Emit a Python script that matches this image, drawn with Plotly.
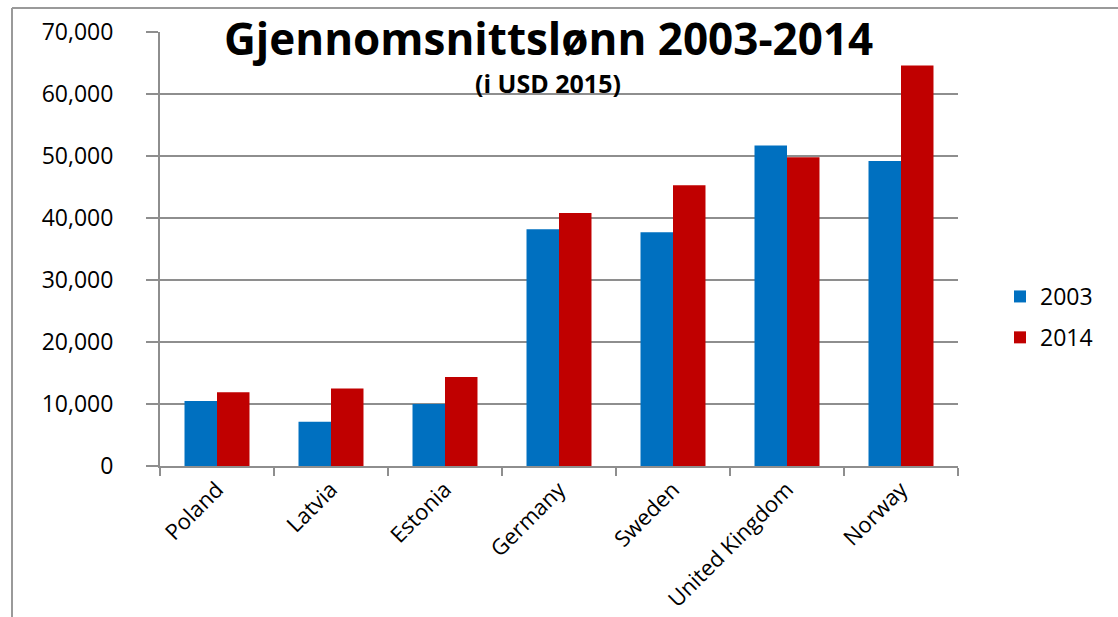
import plotly.graph_objects as go

countries = ["Poland", "Latvia", "Estonia", "Germany", "Sweden", "United Kingdom", "Norway"]
wages_2003 = [10500, 7150, 10000, 38200, 37700, 51700, 49200]
wages_2014 = [11900, 12500, 14350, 40800, 45300, 49800, 64600]
series_names = ["2003", "2014"]
title_text = "Gjennomsnittslønn 2003-2014"
subtitle_text = "(i USD 2015)"

W, H = 1118, 617
L, R, T, B = 160, 160, 32, 151
PW, PH = W - L - R, H - T - B

def px(x):
    return (x - L) / PW

def py(y):
    return (H - B - y) / PH

FONT = "Open Sans"
GRID = "#8e8e8e"

fig = go.Figure()
fig.add_trace(go.Bar(x=countries, y=wages_2003, name=series_names[0],
                     marker=dict(color="#0070C0", line=dict(width=0)), legendgroup="a"))
fig.add_trace(go.Bar(x=countries, y=wages_2014, name=series_names[1],
                     marker=dict(color="#C00000", line=dict(width=0)), legendgroup="b"))

fig.update_layout(
    width=W, height=H,
    margin=dict(l=L, r=R, t=T, b=B, autoexpand=False),
    paper_bgcolor="white", plot_bgcolor="white",
    bargap=0.43, bargroupgap=0,
    font=dict(family=FONT, color="black", size=22),
    legend=dict(x=px(1000), y=py(275), xanchor="left", yanchor="top",
                font=dict(family=FONT, size=23), traceorder="grouped",
                tracegroupgap=8, bgcolor="rgba(0,0,0,0)"),
    showlegend=True,
)
fig.update_yaxes(range=[0, 70000], dtick=10000, tickformat=",",
                 showgrid=True, gridcolor=GRID, gridwidth=1.5,
                 showline=True, linecolor=GRID, linewidth=2,
                 ticks="outside", ticklen=12, tickcolor=GRID, tickwidth=1.5,
                 ticklabelstandoff=28, zeroline=False,
                 tickfont=dict(family=FONT, size=23))
fig.update_xaxes(showline=True, linecolor=GRID, linewidth=2,
                 ticks="outside", ticklen=8, tickcolor=GRID, tickwidth=2,
                 tickson="boundaries", tickangle=-45,
                 tickfont=dict(family=FONT, size=22))

fig.add_annotation(text="<b>" + title_text + "</b>", x=px(548), y=py(38),
                   xref="paper", yref="paper", showarrow=False,
                   xanchor="center", yanchor="middle",
                   font=dict(family=FONT, size=44, color="black"))
fig.add_annotation(text="<b>" + subtitle_text + "</b>", x=px(548), y=py(83),
                   xref="paper", yref="paper", showarrow=False,
                   xanchor="center", yanchor="middle",
                   font=dict(family=FONT, size=25, color="black"))

# outer chart frame (top and left edges visible)
fig.add_shape(type="line", xref="paper", yref="paper",
              x0=px(12), x1=px(W + 5), y0=py(8), y1=py(8),
              line=dict(color="#9a9a9a", width=2))
fig.add_shape(type="line", xref="paper", yref="paper",
              x0=px(12), x1=px(12), y0=py(8), y1=py(H + 5),
              line=dict(color="#9a9a9a", width=2))

fig.write_html("out.html", config={"displayModeBar": False},
               post_script="document.body.style.margin='0px';document.body.style.overflow='hidden';")
